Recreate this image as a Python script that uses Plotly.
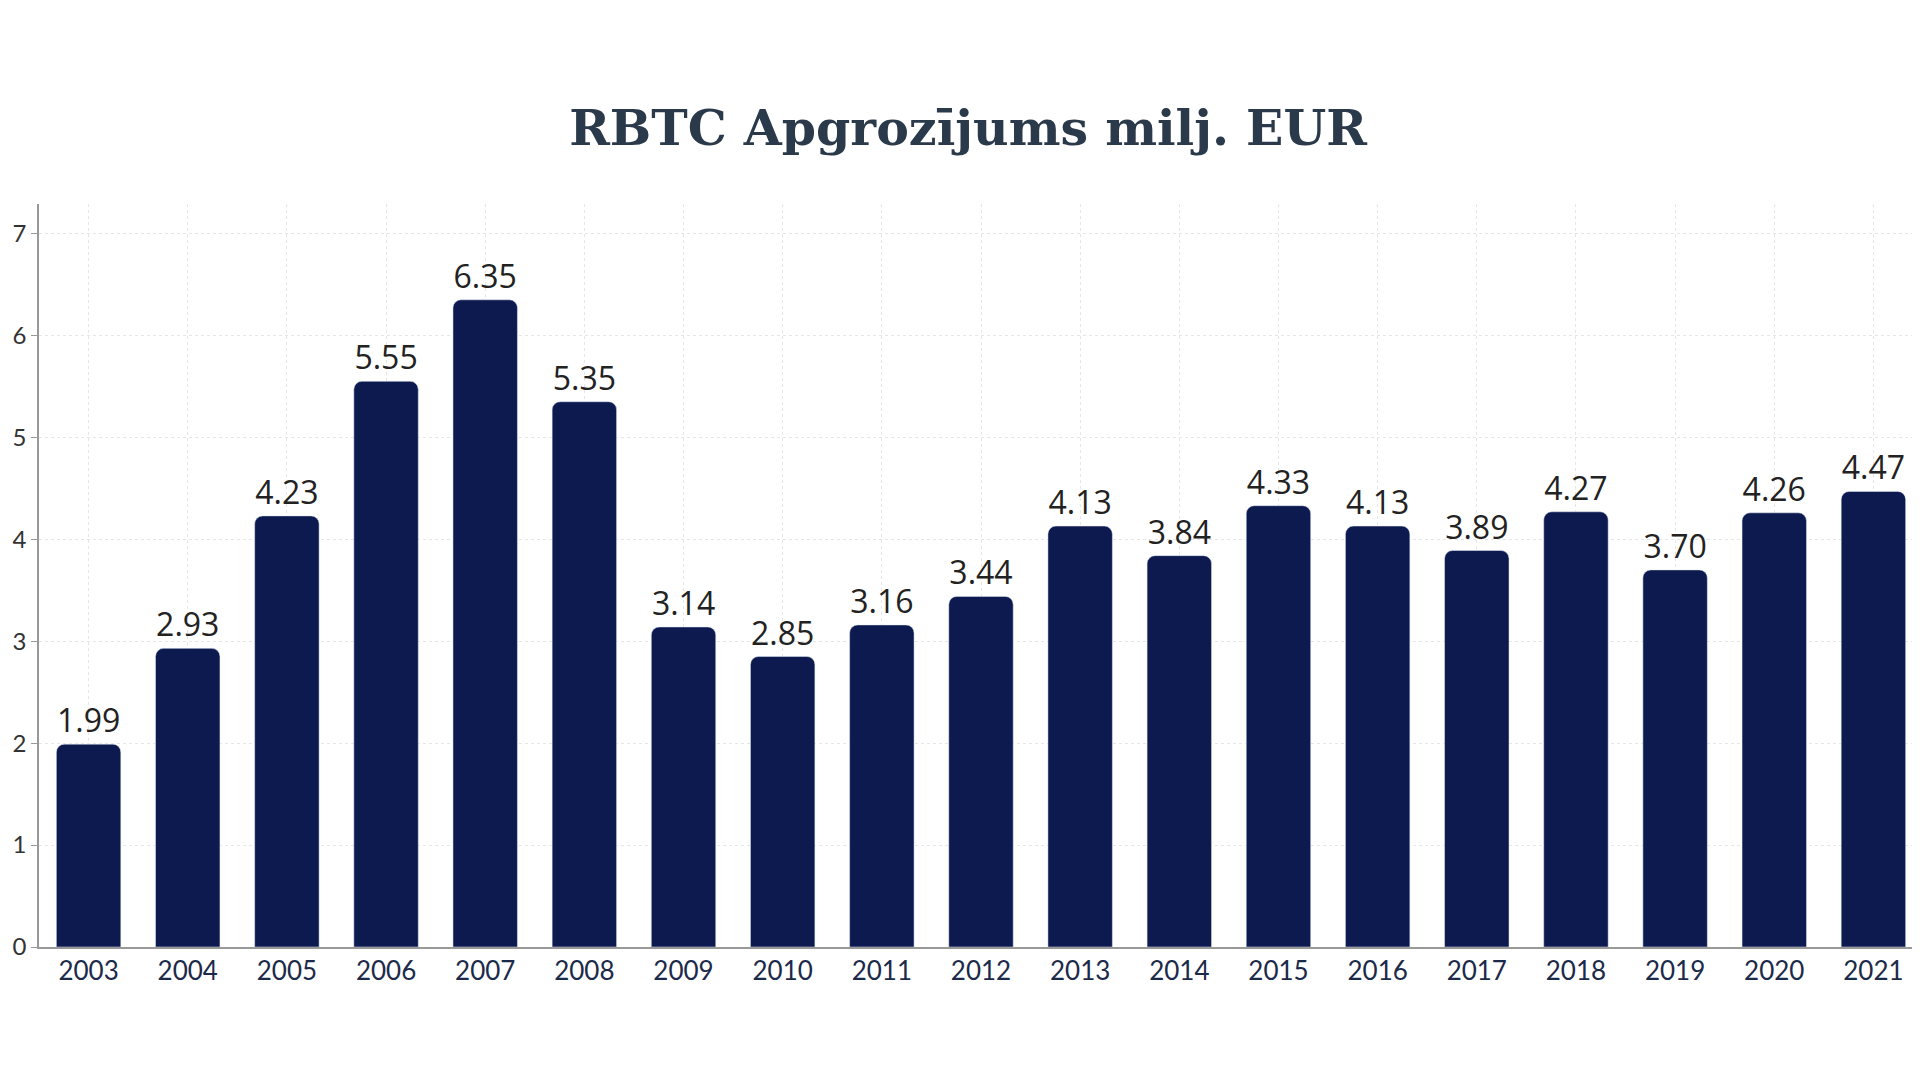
import plotly.graph_objects as go

years = [str(y) for y in range(2003, 2022)]
values = [1.99, 2.93, 4.23, 5.55, 6.35, 5.35, 3.14, 2.85, 3.16, 3.44,
          4.13, 3.84, 4.33, 4.13, 3.89, 4.27, 3.70, 4.26, 4.47]

fig = go.Figure(go.Bar(
    x=years, y=values,
    text=[f"{v:.2f}" for v in values], textposition='outside',
    textfont=dict(family="Open Sans", size=32, color="#222222"),
    marker=dict(color="#0c1a50", cornerradius=8),
    width=0.65, cliponaxis=False,
))
fig.update_layout(
    width=1920, height=1080,
    paper_bgcolor="white", plot_bgcolor="white",
    margin=dict(l=26, r=5, t=196, b=141),
    title=dict(text="<b>RBTC Apgrozījums milj. EUR</b>", x=0.5, xanchor='center', y=0.889, yanchor='middle',
               font=dict(family="DejaVu Serif", size=49, color="#2b3a4a")),
    showlegend=False,
)
fig.update_xaxes(showline=True, linecolor="#999999", linewidth=1.5, ticks='',
                 tickfont=dict(family="Lato", size=26, color="#1c2a4a"), showgrid=True,
                 gridcolor="#e6e6e6", griddash='dot')
fig.update_yaxes(range=[0, 7.29], dtick=1, showline=True, linecolor="#999999", linewidth=1.5,
                 ticks='outside', ticklen=6, tickcolor="#999999",
                 tickfont=dict(family="Lato", size=24, color="#333333"),
                 gridcolor="#e6e6e6", griddash='dot', zeroline=False)
fig.write_html("out.html")
